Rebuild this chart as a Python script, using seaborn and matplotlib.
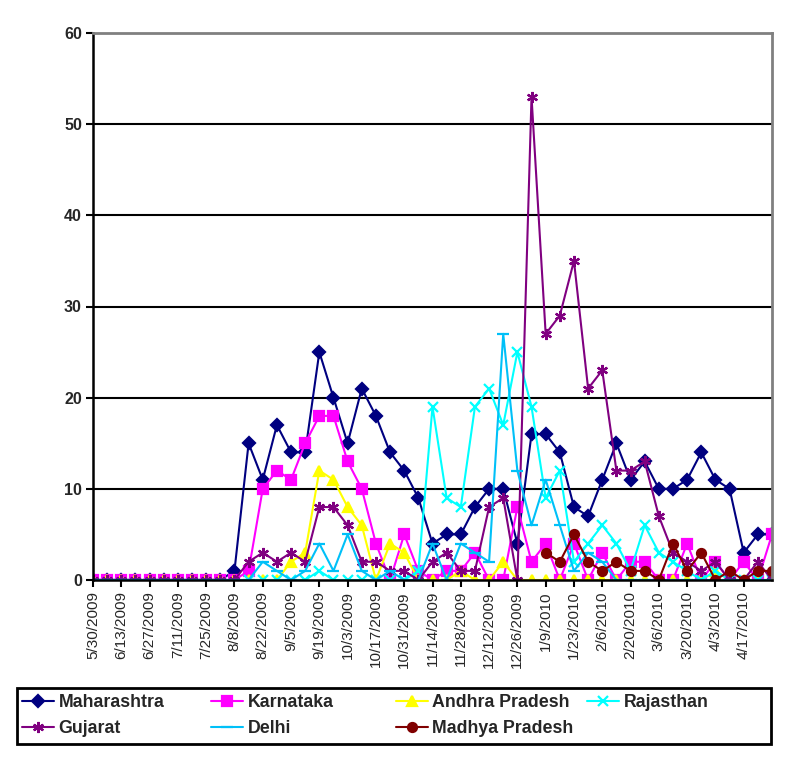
import numpy as np
import matplotlib
matplotlib.use('Agg')
import matplotlib.pyplot as plt
from matplotlib.patches import Rectangle
import seaborn as sns

nan = np.nan

weeks = ['5/30/2009', '6/6/2009', '6/13/2009', '6/20/2009', '6/27/2009', '7/4/2009',
         '7/11/2009', '7/18/2009', '7/25/2009', '8/1/2009', '8/8/2009', '8/15/2009',
         '8/22/2009', '8/29/2009', '9/5/2009', '9/12/2009', '9/19/2009', '9/26/2009',
         '10/3/2009', '10/10/2009', '10/17/2009', '10/24/2009', '10/31/2009', '11/7/2009',
         '11/14/2009', '11/21/2009', '11/28/2009', '12/5/2009', '12/12/2009', '12/19/2009',
         '12/26/2009', '1/2/2010', '1/9/2010', '1/16/2010', '1/23/2010', '1/30/2010',
         '2/6/2010', '2/13/2010', '2/20/2010', '2/27/2010', '3/6/2010', '3/13/2010',
         '3/20/2010', '3/27/2010', '4/3/2010', '4/10/2010', '4/17/2010', '4/24/2010',
         '5/1/2010']

maharashtra = [0, 0, 0, 0, 0, 0, 0, 0, 0, 0, 1, 15, 11, 17, 14, 14, 25, 20, 15, 21,
               18, 14, 12, 9, 4, 5, 5, 8, 10, 10, 4, 16, 16, 14, 8, 7, 11, 15, 11, 13,
               10, 10, 11, 14, 11, 10, 3, 5, 5]
karnataka = [0, 0, 0, 0, 0, 0, 0, 0, 0, 0, 0, 1, 10, 12, 11, 15, 18, 18, 13, 10,
             4, 0, 5, 1, 0, 1, 1, 3, 0, 0, 8, 2, 4, 0, 4, 0, 3, 0, 2, 2,
             0, 0, 4, 0, 2, 0, 2, 0, 5]
andhra = [0, 0, 0, 0, 0, 0, 0, 0, 0, 0, 0, 0, 0, 0, 2, 3, 12, 11, 8, 6,
          0, 4, 3, 0, 0, 0, 1, 0, 0, 2, 0, 0, 0, 0, 0, 0, 0, 0, 0, 0,
          0, 0, 0, 0, 1, 0, 0, 0, 0]
rajasthan = [nan, nan, nan, nan, nan, nan, nan, nan, nan, nan, nan, 0, 0, 0, 0, 0, 1, 0, 0, 0,
             0, 0, 0, 1, 19, 9, 8, 19, 21, 17, 25, 19, 9, 12, 2, 4, 6, 4, 1, 6,
             3, 2, 1, 0, 1, 0, 0, 0, 0]
gujarat = [0, 0, 0, 0, 0, 0, 0, 0, 0, 0, 0, 2, 3, 2, 3, 2, 8, 8, 6, 2,
           2, 1, 1, 0, 2, 3, 1, 1, 8, 9, 0, 53, 27, 29, 35, 21, 23, 12, 12, 13,
           7, 3, 2, 1, 2, 0, 0, 2, 0]
delhi = [0, 0, 0, 0, 0, 0, 0, 0, 0, 0, 0, 0, 2, 1, 0, 1, 4, 1, 5, 1,
         0, 1, 0, 0, 4, 0, 4, 3, 2, 27, 12, 6, 11, 6, 1, 3, 2, 0, 0, 0,
         0, 0, 0, 0, 0, 0, 0, 0, 0]
madhya = [nan] * 32 + [3, 2, 5, 2, 1, 2, 1, 1, 0, 4, 1, 3, 0, 1, 0, 1, 1]

series = [
    ('Maharashtra', maharashtra, '#000080', 'D', 6),
    ('Karnataka', karnataka, '#FF00FF', 's', 6.5),
    ('Andhra Pradesh', andhra, '#FFFF00', '^', 7),
    ('Rajasthan', rajasthan, '#00FFFF', 'x', 7),
    ('Gujarat', gujarat, '#800080', (6, 2, 0), 8),
    ('Delhi', delhi, '#00C0F8', '_', 8),
    ('Madhya Pradesh', madhya, '#800000', 'o', 6.5),
]

sns.set_theme(style='white')
plt.rcParams['font.family'] = ['Liberation Sans', 'DejaVu Sans']

fig = plt.figure(figsize=(7.91, 7.61), dpi=100)
ax = fig.add_axes([93 / 791, 1 - 580 / 761, (772 - 93) / 791, (580 - 33) / 761])

x = np.arange(len(weeks))
for name, vals, col, mk, ms in series:
    sns.lineplot(x=x, y=np.array(vals, dtype=float), ax=ax, color=col, marker=mk,
                 markersize=ms, markeredgecolor=col, markerfacecolor=col,
                 markeredgewidth=1.6, linewidth=1.5, label=name)

if ax.get_legend() is not None:
    ax.get_legend().remove()

ax.set_xlim(0, len(weeks) - 1)
ax.set_ylim(0, 60)
ax.set_yticks(range(0, 61, 10))
ax.set_yticklabels([str(v) for v in range(0, 61, 10)], fontsize=11.5, fontweight='bold')
# Excel dropped the label of the last week
ax.set_xticks(x[:-1:2])
ax.set_xticklabels(weeks[:-1:2], rotation=90, fontsize=11, ha='center', va='top')
ax.set_xlabel('')
ax.set_ylabel('')

for v in range(10, 60, 10):
    ax.axhline(v, color='black', linewidth=1.5, zorder=0)

ax.tick_params(axis='both', direction='out', length=5, width=1.5, color='black',
               bottom=True, left=True, pad=3)
for side in ['left', 'bottom']:
    ax.spines[side].set_color('black')
    ax.spines[side].set_linewidth(1.8)
for side in ['top', 'right']:
    ax.spines[side].set_color('#808080')
    ax.spines[side].set_linewidth(2)
ax.set_facecolor('white')

# legend laid out as a 4-column grid inside one box
handles, labels = ax.get_legend_handles_labels()
lookup = dict(zip(labels, handles))
columns = [['Maharashtra', 'Gujarat'], ['Karnataka', 'Delhi'],
           ['Andhra Pradesh', 'Madhya Pradesh'], ['Rajasthan']]
col_x = [22, 211, 396, 587]
for names, cx in zip(columns, col_x):
    fig.legend([lookup[n] for n in names], names, loc='upper left',
               bbox_to_anchor=(cx / 791, 1 - 694 / 761), frameon=False,
               borderpad=0, borderaxespad=0, handlelength=1.8, handletextpad=0.25,
               labelspacing=0.52, prop={'weight': 'bold', 'size': 12.8})

fig.patches.append(Rectangle((17 / 791, 1 - 744 / 761), 754 / 791, 56 / 761,
                             transform=fig.transFigure, fill=False,
                             edgecolor='black', linewidth=2))

fig.savefig('out.png', dpi=100, facecolor='white')
